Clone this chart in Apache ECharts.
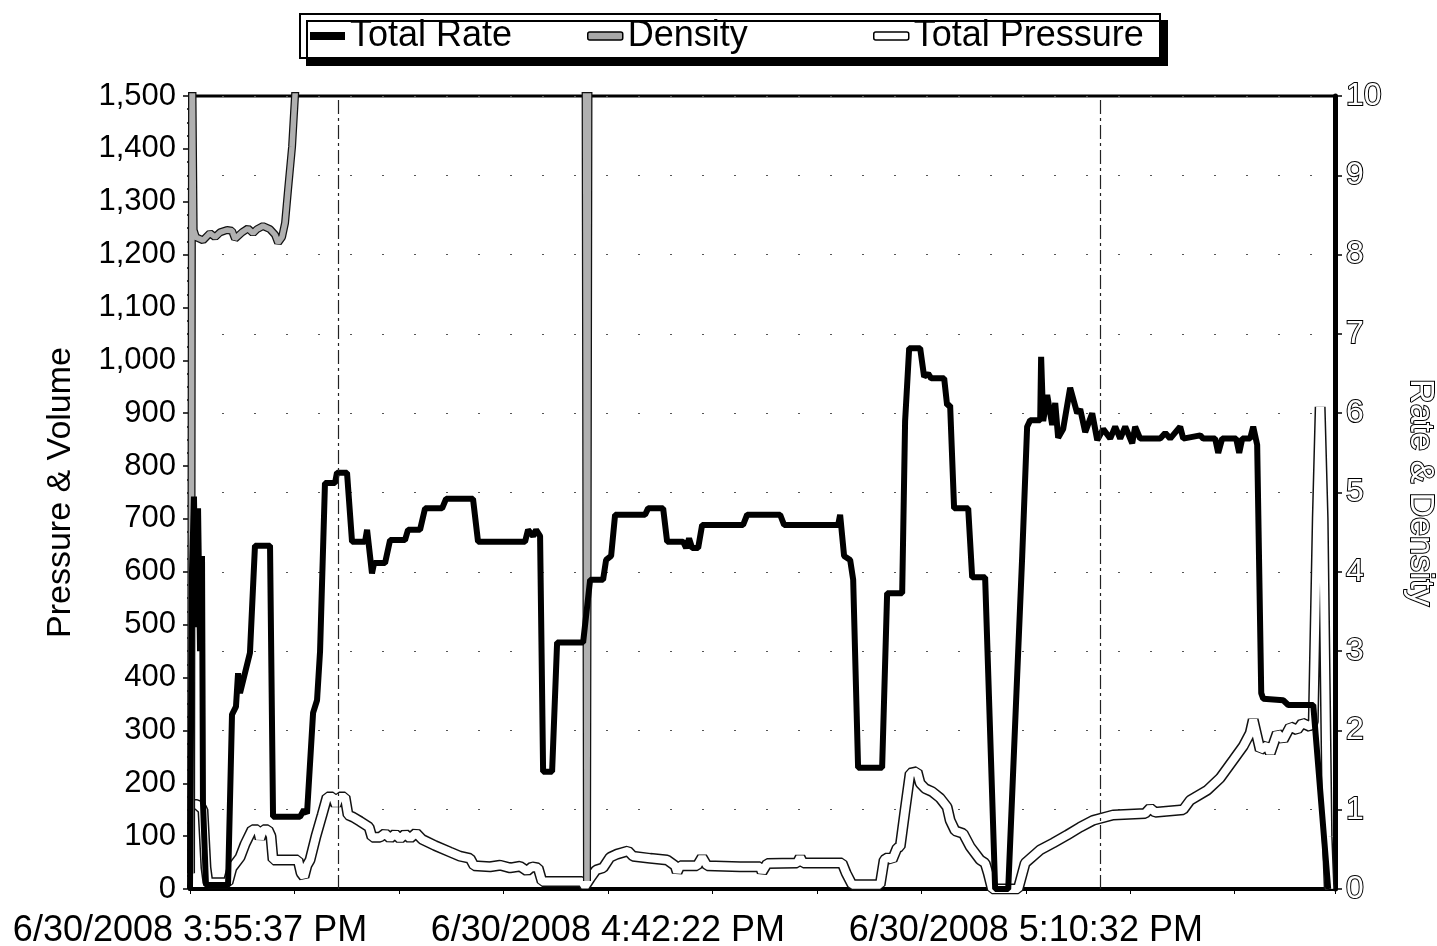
<!DOCTYPE html>
<html>
<head>
    <meta charset="utf-8">
    <title>Total Rate / Density / Total Pressure</title>
    <script src="https://cdn.jsdelivr.net/npm/echarts@6/dist/echarts.min.js"></script>
    <style>
        html, body { margin: 0; padding: 0; background: #fff; }
        #main { width: 1437px; height: 946px; }
    </style>
</head>
<body>
<div id="main"></div>
<script type="text/javascript">
    // x is measured in tick steps of the time axis (tick 0 = first label)
    var xTickLabels = ['6/30/2008 3:55:37 PM', '', '', '', '6/30/2008 4:42:22 PM', '', '', '', '6/30/2008 5:10:32 PM', '', ''];
    var xMax = 10.96;
    var legendNames = ['Total Rate', 'Density', 'Total Pressure'];
    // dash-dot event lines
    var eventMarks = [1.417, 8.712];

    // Total Rate, right axis (Rate & Density)
    var totalRate = [
        [0, 0], [0.019, 4.0], [0.038, 4.95], [0.057, 3.3], [0.077, 4.8], [0.096, 3.0], [0.115, 4.2],
        [0.124, 1.1], [0.153, 0.05], [0.364, 0.05], [0.402, 2.2], [0.440, 2.3], [0.460, 2.72],
        [0.479, 2.47], [0.574, 2.98], [0.622, 4.33], [0.766, 4.33], [0.795, 0.91], [1.053, 0.91],
        [1.091, 1.0], [1.120, 0.95], [1.178, 2.22], [1.216, 2.38], [1.245, 3.0], [1.292, 5.12],
        [1.388, 5.12], [1.407, 5.25], [1.503, 5.25], [1.551, 4.38], [1.675, 4.38], [1.695, 4.53],
        [1.742, 3.98], [1.762, 4.11], [1.867, 4.11], [1.915, 4.40], [2.058, 4.40], [2.087, 4.53],
        [2.202, 4.53], [2.250, 4.80], [2.413, 4.80], [2.451, 4.92], [2.709, 4.92], [2.757, 4.38],
        [3.207, 4.38], [3.236, 4.53], [3.284, 4.45], [3.313, 4.53], [3.351, 4.45], [3.380, 1.48],
        [3.466, 1.48], [3.514, 3.11], [3.763, 3.11], [3.830, 3.90], [3.954, 3.90], [3.983, 4.15],
        [4.031, 4.20], [4.069, 4.72], [4.356, 4.72], [4.385, 4.80], [4.529, 4.80], [4.567, 4.38],
        [4.720, 4.38], [4.749, 4.30], [4.777, 4.42], [4.806, 4.30], [4.864, 4.30], [4.902, 4.59],
        [5.294, 4.59], [5.333, 4.72], [5.649, 4.72], [5.687, 4.59], [6.204, 4.59], [6.223, 4.72],
        [6.261, 4.20], [6.319, 4.15], [6.348, 3.90], [6.395, 1.53], [6.625, 1.53], [6.673, 3.73],
        [6.817, 3.73], [6.845, 5.90], [6.884, 6.82], [6.989, 6.82], [7.027, 6.46], [7.066, 6.50],
        [7.094, 6.44], [7.219, 6.44], [7.247, 6.10], [7.276, 6.10], [7.314, 4.80], [7.449, 4.80],
        [7.487, 3.93], [7.611, 3.93], [7.707, 0], [7.832, 0], [7.918, 2.7], [7.966, 4.2],
        [8.013, 5.83], [8.042, 5.91], [8.138, 5.91], [8.147, 6.71], [8.167, 5.90], [8.205, 6.23],
        [8.253, 5.85], [8.282, 6.13], [8.310, 5.69], [8.358, 5.80], [8.425, 6.32], [8.492, 6.00],
        [8.521, 6.05], [8.569, 5.76], [8.636, 6.00], [8.684, 5.66], [8.741, 5.80], [8.808, 5.68],
        [8.856, 5.83], [8.904, 5.68], [8.952, 5.83], [9.019, 5.62], [9.047, 5.83], [9.095, 5.68],
        [9.287, 5.68], [9.335, 5.75], [9.382, 5.68], [9.478, 5.83], [9.507, 5.68], [9.670, 5.72],
        [9.699, 5.68], [9.813, 5.68], [9.842, 5.50], [9.880, 5.68], [10.014, 5.68], [10.043, 5.50],
        [10.072, 5.68], [10.148, 5.68], [10.177, 5.83], [10.215, 5.60], [10.254, 2.47], [10.273, 2.40],
        [10.464, 2.38], [10.512, 2.32], [10.752, 2.32], [10.895, 0]
    ];

    // Density, right axis (goes above 10 where it leaves the chart)
    var density = [
        [0.01, 0.2], [0.02, 10.6], [0.035, 8.31], [0.057, 8.22], [0.124, 8.18], [0.191, 8.27],
        [0.239, 8.22], [0.287, 8.28], [0.354, 8.31], [0.402, 8.30], [0.431, 8.20], [0.498, 8.28],
        [0.555, 8.33], [0.603, 8.27], [0.641, 8.32], [0.699, 8.36], [0.766, 8.32], [0.814, 8.25],
        [0.843, 8.15], [0.881, 8.22], [0.910, 8.40], [0.938, 8.81], [0.977, 9.36], [1.005, 10.0],
        [1.034, 10.6], [3.786, 10.6], [3.800, 0.1], [3.815, 10.6]
    ];

    // Total Pressure, left axis (psi)
    var totalPressure = [
        [0, 160], [0.067, 160], [0.124, 150], [0.153, 40], [0.172, 12], [0.364, 12],
        [0.402, 40], [0.479, 60], [0.527, 85], [0.594, 112], [0.651, 112], [0.670, 95], [0.699, 112],
        [0.747, 112], [0.775, 100], [0.795, 55], [1.034, 55], [1.063, 30], [1.091, 23], [1.120, 45],
        [1.149, 55], [1.206, 100], [1.264, 140], [1.312, 174], [1.369, 174], [1.398, 158], [1.427, 174],
        [1.484, 174], [1.513, 140], [1.561, 136], [1.628, 128], [1.714, 117], [1.742, 98], [1.819, 98],
        [1.867, 105], [1.915, 96], [1.963, 104], [2.011, 95], [2.058, 104], [2.106, 96], [2.164, 106],
        [2.221, 94], [2.346, 82], [2.489, 70], [2.585, 62], [2.681, 58], [2.719, 44], [2.872, 42],
        [2.968, 45], [3.064, 40], [3.159, 43], [3.226, 34], [3.274, 42], [3.332, 40], [3.370, 14],
        [3.753, 14], [3.781, 5], [3.830, 20], [3.887, 36], [3.954, 40], [4.021, 60], [4.088, 66],
        [4.193, 72], [4.241, 62], [4.404, 58], [4.567, 55], [4.644, 44], [4.663, 32], [4.691, 44],
        [4.854, 44], [4.902, 60], [4.950, 44], [5.266, 42], [5.457, 42], [5.476, 32], [5.524, 48],
        [5.811, 49], [5.840, 60], [5.869, 49], [6.242, 49], [6.281, 30], [6.338, 8], [6.606, 8],
        [6.644, 55], [6.683, 60], [6.721, 55], [6.769, 78], [6.798, 80], [6.845, 150], [6.893, 219],
        [6.960, 222], [6.989, 200], [7.037, 190], [7.104, 184], [7.180, 172], [7.247, 155], [7.276, 130],
        [7.324, 110], [7.401, 105], [7.468, 80], [7.563, 55], [7.611, 49], [7.640, 30], [7.678, 0],
        [7.927, 0], [7.994, 49], [8.138, 74], [8.262, 87], [8.396, 102], [8.521, 117], [8.645, 130],
        [8.837, 140], [9.143, 143], [9.191, 153], [9.239, 145], [9.507, 150], [9.574, 168], [9.737, 187],
        [9.861, 210], [9.986, 244], [10.081, 270], [10.148, 295], [10.177, 320], [10.244, 263],
        [10.311, 272], [10.340, 257], [10.407, 295], [10.464, 282], [10.531, 307], [10.598, 301],
        [10.646, 314], [10.723, 307], [10.752, 316], [10.790, 700], [10.818, 912], [10.847, 700],
        [10.885, 100], [10.905, 0]
    ];

    var FONT = "'Liberation Sans', Arial, sans-serif";
    var myChart = echarts.init(document.getElementById('main'), null, {renderer: 'canvas'});

    // hollow lines: a dark wide stroke under a narrower light stroke
    function hollow(name, data, axis, outer, inner, fill) {
        var base = {type: 'line', yAxisIndex: axis, data: data, symbol: 'none', showSymbol: false, silent: true};
        return [
            Object.assign({}, base, {name: name + ' edge', lineStyle: {color: '#111', width: outer}}),
            Object.assign({}, base, {name: name, lineStyle: {color: fill, width: inner}})
        ];
    }

    var legendIcons = [
        {icon: 'rect', itemStyle: {color: '#000', borderWidth: 0}},
        {icon: 'roundRect', itemStyle: {color: '#a8a8a8', borderColor: '#000', borderWidth: 1.5}},
        {icon: 'roundRect', itemStyle: {color: '#fff', borderColor: '#000', borderWidth: 1.5}}
    ];
    var legendLeft = [310, 587, 873];

    var option = {
        animation: false,
        backgroundColor: '#fff',
        textStyle: {fontFamily: FONT},
        // legend frame with its hard drop shadow
        graphic: [{
            type: 'rect', z: 1, silent: true,
            shape: {x: 300, y: 14, width: 860, height: 44},
            style: {fill: '#fff', stroke: '#000', lineWidth: 2, shadowColor: '#000', shadowBlur: 0, shadowOffsetX: 7, shadowOffsetY: 7}
        }],
        legend: legendNames.map(function (n, i) {
            return {
                data: [Object.assign({name: n}, legendIcons[i])],
                left: legendLeft[i], top: 18, padding: 0, z: 5,
                itemWidth: 35, itemHeight: 8, selectedMode: false,
                textStyle: {color: '#000', fontSize: 36, fontFamily: FONT}
            };
        }),
        grid: {
            left: 190, right: 102, top: 96, bottom: 57,
            outerBoundsMode: 'none', containLabel: false,
            show: true, borderColor: '#000', borderWidth: 3, backgroundColor: 'transparent'
        },
        xAxis: {
            type: 'value',
            min: 0, max: xMax, interval: 1,
            axisLine: {show: true, onZero: false, lineStyle: {color: '#000', width: 4}},
            axisTick: {show: true, length: 5, lineStyle: {color: '#000', width: 1}},
            splitLine: {show: false},
            axisLabel: {
                margin: 24, fontSize: 36, color: '#000', fontFamily: FONT,
                showMinLabel: true, showMaxLabel: true,
                formatter: function (v) {
                    return xTickLabels[Math.round(v)] || '';
                }
            }
        },
        yAxis: [
            {
                type: 'value', position: 'left',
                min: 0, max: 1500, interval: 100,
                name: 'Pressure & Volume', nameLocation: 'middle', nameRotate: 90, nameGap: 112,
                nameTextStyle: {fontSize: 34, color: '#000', fontFamily: FONT},
                axisLine: {show: true, lineStyle: {color: '#000', width: 4}},
                axisTick: {show: true, length: 7, lineStyle: {color: '#000', width: 1.5}},
                minorTick: {show: true, splitNumber: 4, length: 3, lineStyle: {color: '#000', width: 1.5}},
                splitLine: {show: false},
                axisLabel: {
                    margin: 14, fontSize: 31, color: '#000', fontFamily: FONT,
                    formatter: function (v) { return v.toLocaleString('en-US'); }
                }
            },
            {
                type: 'value', position: 'right',
                min: 0, max: 10, interval: 1,
                name: 'Rate & Density', nameLocation: 'middle', nameRotate: -90, nameGap: 68,
                nameTextStyle: {fontSize: 34, color: '#fff', textBorderColor: '#000', textBorderWidth: 2, fontFamily: FONT},
                axisLine: {show: true, lineStyle: {color: '#000', width: 5}},
                axisTick: {show: true, length: 7, lineStyle: {color: '#000', width: 1.5}},
                minorTick: {show: true, splitNumber: 4, length: 3, lineStyle: {color: '#000', width: 1.5}},
                splitLine: {show: true, lineStyle: {color: '#555', width: 1.2, type: [2, 30]}},
                axisLabel: {
                    margin: 11, fontSize: 32, color: '#fff', textBorderColor: '#000', textBorderWidth: 2,
                    fontFamily: FONT
                }
            }
        ],
        series: [].concat(
            hollow('Total Pressure', totalPressure, 0, 11, 8, '#fff'),
            hollow('Density', density, 1, 8, 5.5, '#b0b0b0'),
            [{
                name: 'Total Rate', type: 'line', yAxisIndex: 1, data: totalRate,
                symbol: 'none', showSymbol: false, silent: true,
                lineStyle: {color: '#000', width: 6},
                markLine: {
                    silent: true, symbol: 'none', label: {show: false},
                    lineStyle: {color: '#222', width: 1.2, type: [14, 4, 3, 4]},
                    data: eventMarks.map(function (v) { return {xAxis: v}; })
                }
            }]
        )
    };

    myChart.setOption(option);
</script>
</body>
</html>
